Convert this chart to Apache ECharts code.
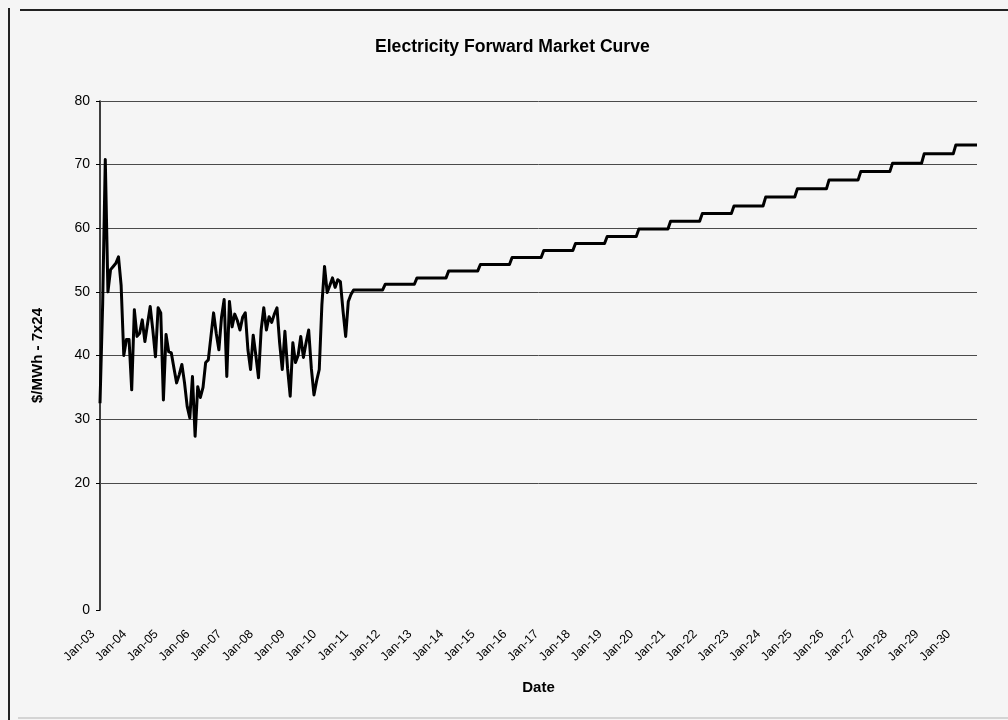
<!DOCTYPE html>
<html>
<head>
<meta charset="utf-8">
<title>Electricity Forward Market Curve</title>
<script src="https://cdn.jsdelivr.net/npm/echarts@6/dist/echarts.min.js"></script>
<style>
  html, body { margin: 0; padding: 0; background: #f5f5f5; }
  #chart { width: 1008px; height: 720px; }
</style>
</head>
<body>
<div id="chart"></div>
<script>
// Monthly settled prices, Jan-03 through Dec-10 ($/MWh, 7x24)
const historyStart = [2003, 1];
const historyPrices = [
  32.5, 48.0, 70.8, 50.0, 53.5, 54.0, 54.5, 55.5, 51.0, 40.0, 42.5, 42.5,
  34.6, 47.2, 43.0, 43.5, 45.6, 42.2, 45.0, 47.7, 44.0, 39.8, 47.5, 46.7,
  33.0, 43.3, 40.6, 40.4, 38.0, 35.7, 37.0, 38.6, 35.7, 32.0, 30.2, 36.7,
  27.3, 35.1, 33.4, 35.0, 38.9, 39.3, 43.0, 46.7, 43.5, 40.9, 46.0, 48.8,
  36.7, 48.5, 44.5, 46.5, 45.5, 44.0, 46.0, 46.7, 40.9, 37.8, 43.2, 40.0,
  36.5, 44.0, 47.5, 44.0, 46.1, 45.2, 46.5, 47.5, 42.0, 37.8, 43.8, 38.0,
  33.6, 42.0, 38.9, 40.0, 43.0, 39.7, 42.0, 44.0, 38.0, 33.8, 36.0, 37.8,
  48.0, 54.0, 49.9, 51.0, 52.2, 50.7, 51.9, 51.6, 47.0, 43.0, 48.5, 49.6
];

// Calendar-year forward strips ($/MWh, 7x24)
const forwardYears = [
  2011, 2012, 2013, 2014, 2015, 2016, 2017, 2018, 2019, 2020,
  2021, 2022, 2023, 2024, 2025, 2026, 2027, 2028, 2029, 2030
];
const forwardPrices = [
  50.3, 51.2, 52.2, 53.3, 54.3, 55.4, 56.5, 57.6, 58.7, 59.9,
  61.1, 62.3, 63.5, 64.9, 66.2, 67.6, 68.9, 70.2, 71.7, 73.1
];
// last contract month on the curve
const curveEnd = [2030, 9];

const yearLabels = [
  'Jan-03', 'Jan-04', 'Jan-05', 'Jan-06', 'Jan-07', 'Jan-08', 'Jan-09',
  'Jan-10', 'Jan-11', 'Jan-12', 'Jan-13', 'Jan-14', 'Jan-15', 'Jan-16',
  'Jan-17', 'Jan-18', 'Jan-19', 'Jan-20', 'Jan-21', 'Jan-22', 'Jan-23',
  'Jan-24', 'Jan-25', 'Jan-26', 'Jan-27', 'Jan-28', 'Jan-29', 'Jan-30'
];
const firstYear = 2003;
const priceLabels = [0, 20, 30, 40, 50, 60, 70, 80];
const gridLevels = [20, 30, 40, 50, 60, 70, 80];

// month -> fractional year on the date axis
const toYear = (y, m) => y + (m - 1) / 12;

const curve = historyPrices.map((p, i) =>
  [toYear(historyStart[0], historyStart[1] + i), p]);
forwardYears.forEach((y, i) => {
  const p = forwardPrices[i];
  const last = i === forwardYears.length - 1;
  curve.push([toYear(y, 1), p]);
  curve.push([last ? toYear(curveEnd[0], curveEnd[1]) : toYear(y, 12), p]);
});

const FONT = '"Liberation Sans", Arial, sans-serif';
const chart = echarts.init(document.getElementById('chart'), null, { renderer: 'canvas' });

chart.setOption({
  backgroundColor: '#f5f5f5',
  animation: false,
  textStyle: { fontFamily: FONT, color: '#000' },
  title: {
    text: 'Electricity Forward Market Curve',
    left: 370,
    top: 33,
    textStyle: { fontFamily: FONT, fontSize: 17.6, fontWeight: 'bold', color: '#000' }
  },
  grid: { left: 100, right: 31, top: 101, bottom: 110, containLabel: false },
  xAxis: {
    type: 'value',
    min: firstYear,
    max: toYear(curveEnd[0], curveEnd[1]),
    interval: 1,
    name: 'Date',
    nameLocation: 'middle',
    nameGap: 70,
    nameTextStyle: { fontFamily: FONT, fontSize: 15, fontWeight: 'bold', color: '#000' },
    axisLine: { show: false },
    axisTick: { show: false },
    splitLine: { show: false },
    axisLabel: {
      rotate: 45,
      margin: 15,
      padding: [0, 10, 0, 0],
      fontFamily: FONT,
      fontSize: 12.5,
      color: '#000',
      showMaxLabel: false,
      formatter: v => {
        const k = Math.round(v - firstYear);
        return Math.abs(v - firstYear - k) < 1e-6 && yearLabels[k] ? yearLabels[k] : '';
      }
    }
  },
  yAxis: {
    type: 'value',
    min: 0,
    max: 80,
    interval: 10,
    name: '$/MWh - 7x24',
    nameLocation: 'middle',
    nameGap: 55,
    nameTextStyle: { fontFamily: FONT, fontSize: 15, fontWeight: 'bold', color: '#000' },
    axisLine: { show: true, lineStyle: { color: '#000', width: 1.5 } },
    axisTick: { show: true, length: 4, customValues: priceLabels, lineStyle: { color: '#000' } },
    splitLine: { show: false },
    axisLabel: {
      margin: 10,
      fontFamily: FONT,
      fontSize: 14,
      color: '#000',
      formatter: v => priceLabels.includes(v) ? String(v) : ''
    }
  },
  series: [{
    type: 'line',
    data: curve,
    symbol: 'none',
    showSymbol: false,
    lineStyle: { color: '#000', width: 3, join: 'round' },
    z: 3,
    markLine: {
      silent: true,
      z: 1,
      symbol: ['none', 'none'],
      label: { show: false },
      lineStyle: { color: '#4a4a4a', width: 1, type: 'solid' },
      emphasis: { disabled: true },
      data: gridLevels.map(v => ({ yAxis: v }))
    }
  }],
  graphic: [
    { type: 'line', shape: { x1: 20, y1: 10, x2: 1008, y2: 10 },
      style: { stroke: '#222', lineWidth: 2 } },
    { type: 'line', shape: { x1: 9, y1: 8, x2: 9, y2: 720 },
      style: { stroke: '#222', lineWidth: 2 } },
    { type: 'line', shape: { x1: 18, y1: 718, x2: 1008, y2: 718 },
      style: { stroke: '#c8c8c8', lineWidth: 1.5 } }
  ]
});
</script>
</body>
</html>
